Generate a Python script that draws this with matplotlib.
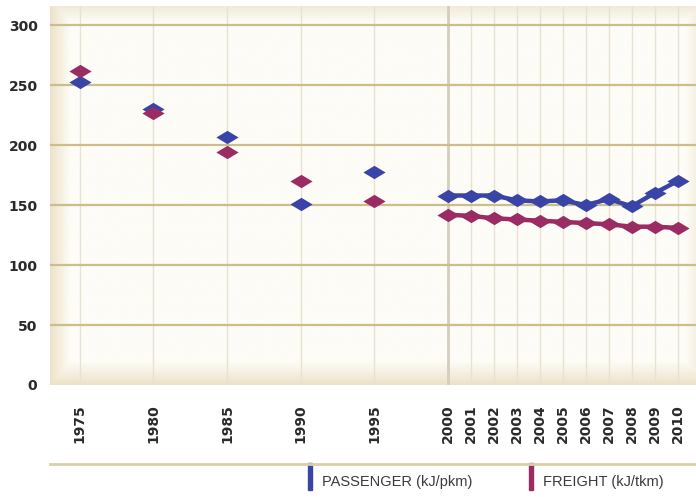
import numpy as np
import matplotlib
matplotlib.use("Agg")
import matplotlib.pyplot as plt
from matplotlib.path import Path
from matplotlib.lines import Line2D
from matplotlib.patches import Rectangle

# ---- data ----
years = ["1975", "1980", "1985", "1990", "1995", "2000", "2001", "2002", "2003",
         "2004", "2005", "2006", "2007", "2008", "2009", "2010"]
passenger = [253, 230, 207, 151, 178, 158, 158, 158, 154, 153, 154, 150, 155, 149, 160, 170]
freight = [262, 227, 194, 170, 153, 142, 141, 139, 138, 137, 136, 135, 134, 132, 132, 131]
yticks = [0, 50, 100, 150, 200, 250, 300]

# x layout: 5-year steps get 3.2 units, yearly steps 1 unit
yrs = np.array([int(y) for y in years])
xpos = np.where(yrs <= 2000, (yrs - 1975) / 5 * 3.2, 16 + (yrs - 2000))

BLUE = "#3a44a6"
MAROON = "#9a2b63"

fig = plt.figure(figsize=(6.96, 4.97), dpi=100)
fig.patch.set_facecolor("white")
ax = fig.add_axes([50 / 696, 112 / 497, 646 / 696, 379 / 497])

xmin, xmax = -1.3, 26.8
ymin, ymax = 0, 316
ax.set_xlim(xmin, xmax)
ax.set_ylim(ymin, ymax)

# vignette background
H, W = 200, 400
yy, xx = np.mgrid[0:H, 0:W]
fx = xx / (W - 1)
fy = 1 - yy / (H - 1)  # 0 bottom, 1 top
edge = np.zeros((H, W))
edge = np.maximum(edge, np.clip(1 - fx / 0.03, 0, 1) * 0.9)
edge = np.maximum(edge, np.clip(1 - fy / 0.06, 0, 1) * 0.9)
edge = np.maximum(edge, np.clip(1 - (1 - fy) / 0.04, 0, 1) * 0.6)
edge = np.maximum(edge, np.clip(1 - (1 - fx) / 0.015, 0, 1) * 0.4)
base = np.array(matplotlib.colors.to_rgb("#fdfcf7"))
dark = np.array(matplotlib.colors.to_rgb("#ebe0c4"))
img = base[None, None, :] * (1 - edge[..., None]) + dark[None, None, :] * edge[..., None]
ax.imshow(img, extent=[0, 1, 0, 1], transform=ax.transAxes, aspect="auto", zorder=0)

# grid
for x in xpos:
    ax.axvline(x, color="#e8e2d2", lw=1.0, zorder=1)
ax.axvline(xpos[years.index("2000")], color="#d6cebc", lw=2.0, zorder=1)
for y in yticks[1:]:
    ax.axhline(y, color="#cbbd8c", lw=1.6, zorder=1)

# wide diamond marker
diamond = Path([(-1, 0), (0, 0.6), (1, 0), (0, -0.6), (-1, 0)],
               [Path.MOVETO, Path.LINETO, Path.LINETO, Path.LINETO, Path.CLOSEPOLY])

i0 = years.index("2000")
for vals, col in [(passenger, BLUE), (freight, MAROON)]:
    ax.plot(xpos[i0:], vals[i0:], color=col, lw=3.2, zorder=3, solid_capstyle="round")
    ax.plot(xpos, vals, ls="none", marker=diamond, markersize=16, color=col,
            markeredgewidth=0, zorder=4)

for s in ax.spines.values():
    s.set_visible(False)
ax.set_xticks(xpos)
ax.set_xticklabels(years, rotation=90, fontsize=10, fontweight="bold", color="#2a2a2a")
ax.set_yticks(yticks)
ax.set_yticklabels([str(v) for v in yticks], fontsize=10, fontweight="bold", color="#2a2a2a")
ax.tick_params(axis="x", length=0, pad=14)
ax.tick_params(axis="y", length=0, pad=9)
for lab in ax.get_xticklabels():
    lab.set_verticalalignment("top")

# legend
fig.add_artist(Line2D([50 / 696, 1.0], [1 - 464 / 497] * 2, transform=fig.transFigure,
                      color="#dccfa8", lw=2.0))
fig.add_artist(Rectangle((308 / 696, 1 - 490 / 497), 4 / 696, 27 / 497,
                         transform=fig.transFigure, color=BLUE))
fig.add_artist(Rectangle((529 / 696, 1 - 490 / 497), 4 / 696, 27 / 497,
                         transform=fig.transFigure, color=MAROON))
fig.text(322 / 696, 1 - 486 / 497, "PASSENGER (kJ/pkm)", fontsize=10.5,
         family="Liberation Sans", color="#3a3a3a", va="baseline")
fig.text(543 / 696, 1 - 486 / 497, "FREIGHT (kJ/tkm)", fontsize=10.5,
         family="Liberation Sans", color="#3a3a3a", va="baseline")

fig.savefig("out.png", dpi=100)
